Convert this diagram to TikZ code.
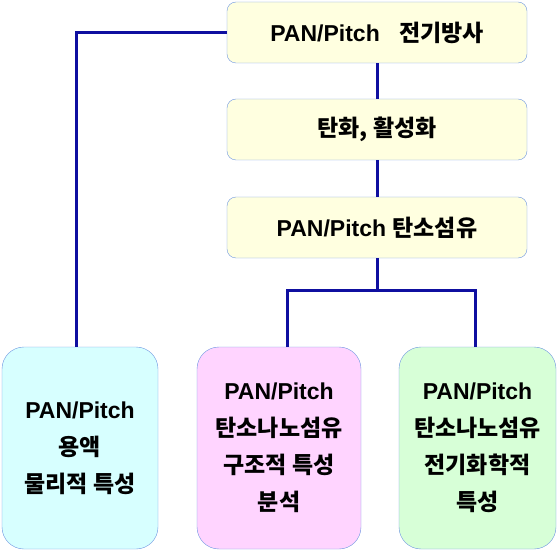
\documentclass[tikz,border=0pt]{standalone}
\usepackage{fontspec}
\setmainfont{Liberation Sans}
\newfontfamily\kr{Noto Sans CJK KR}
\usepackage{tikz}

\definecolor{linkblue}{RGB}{15,15,160}
\definecolor{edgeblue}{RGB}{110,150,225}
\definecolor{stepfill}{RGB}{255,255,224}
\definecolor{solfill}{RGB}{215,255,255}
\definecolor{structfill}{RGB}{255,212,255}
\definecolor{elecfill}{RGB}{215,255,215}

\tikzset{
    stepbox/.style={draw=edgeblue, fill=stepfill, rounded corners=9pt,
        minimum width=300pt, minimum height=61pt, font=\bfseries\fontsize{23}{28}\selectfont},
    resultbox/.style={draw=edgeblue, rounded corners=22pt, minimum height=202pt,
        align=center, font=\bfseries\fontsize{23}{37}\selectfont},
    link/.style={draw=linkblue, line width=3pt}
}

\begin{document}
\begin{tikzpicture}[x=1pt,y=-1pt]
    \useasboundingbox (0,0) rectangle (558,551);

    \node[stepbox] (spin) at (377,32.5) {PAN/Pitch~~~{\kr 전기방사}};
    \node[stepbox] (carb) at (377,129.5) {\kr 탄화, 활성화};
    \node[stepbox] (fiber) at (377,227.5) {PAN/Pitch {\kr 탄소섬유}};

    \node[resultbox, fill=solfill, minimum width=156pt] (sol) at (80,448)
        {PAN/Pitch\\{\kr 용액}\\{\kr 물리적 특성}};
    \node[resultbox, fill=structfill, minimum width=164pt] (struct) at (279,448)
        {PAN/Pitch\\{\kr 탄소나노섬유}\\{\kr 구조적 특성}\\{\kr 분석}};
    \node[resultbox, fill=elecfill, minimum width=157pt] (elec) at (477.5,448)
        {PAN/Pitch\\{\kr 탄소나노섬유}\\{\kr 전기화학적}\\{\kr 특성}};

    \coordinate (split) at (377,290);

    \draw[link] (spin.west) -| ([xshift=-4pt]sol.north);
    \draw[link] (spin) -- (carb);
    \draw[link] (carb) -- (fiber);
    \draw[link] (fiber) -- (split);
    \draw[link] (split) -| ([xshift=8pt]struct.north);
    \draw[link] (split) -| ([xshift=-2pt]elec.north);
\end{tikzpicture}
\end{document}
